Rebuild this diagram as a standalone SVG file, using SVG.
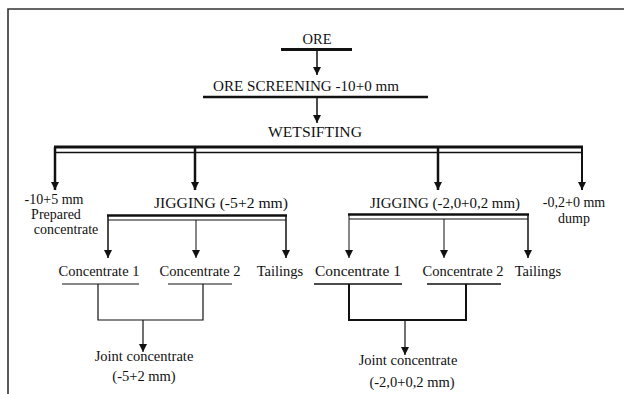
<svg xmlns="http://www.w3.org/2000/svg" width="624" height="394" viewBox="0 0 624 394">
<style>
  text { font-family: "Liberation Serif", "Times New Roman", serif; font-size: 14.5px; fill: #111; text-anchor: middle; }
  .sm { font-size: 14px; }
  .ln { stroke: #111; fill: none; }
  .frame { stroke: #333; stroke-width: 1.6; fill: none; }
</style>
<defs>
  <marker id="ah" viewBox="0 0 10 10" refX="10" refY="5" markerWidth="9" markerHeight="8" markerUnits="userSpaceOnUse" orient="auto">
    <path d="M0,0 L10,5 L0,10 z" fill="#111"/>
  </marker>
</defs>
<rect width="624" height="394" fill="#fff"/>
<path class="frame" d="M8,394 V9 H624"/>

<g id="ore"><text x="317" y="44">ORE</text><line class="ln" x1="281" y1="49.5" x2="352" y2="49.5" stroke-width="3"/></g>
<g id="screening"><text x="306" y="91" textLength="186" lengthAdjust="spacingAndGlyphs">ORE SCREENING -10+0 mm</text><line class="ln" x1="203" y1="97" x2="428" y2="97" stroke-width="2.5"/></g>
<g id="wetsifting"><text x="315" y="137" textLength="94" lengthAdjust="spacingAndGlyphs">WETSIFTING</text></g>
<g id="prepared"><text class="sm" x="54" y="204">-10+5 mm</text><text class="sm" x="56" y="219">Prepared</text><text class="sm" x="66" y="234">concentrate</text></g>
<g id="jig1"><text x="221" y="208" textLength="134" lengthAdjust="spacingAndGlyphs">JIGGING (-5+2 mm)</text></g>
<g id="jig2"><text x="445" y="208" textLength="150" lengthAdjust="spacingAndGlyphs">JIGGING (-2,0+0,2 mm)</text></g>
<g id="dump"><text class="sm" x="574" y="207">-0,2+0 mm</text><text class="sm" x="574" y="223">dump</text></g>
<g id="c1a"><text x="99" y="276">Concentrate 1</text><line class="ln" x1="62" y1="284" x2="139" y2="284" stroke-width="1"/></g>
<g id="c2a"><text x="200" y="276">Concentrate 2</text><line class="ln" x1="168" y1="284" x2="232" y2="284" stroke-width="1"/></g>
<g id="t1"><text x="280" y="276">Tailings</text></g>
<g id="c1b"><text x="358" y="276" textLength="86" lengthAdjust="spacingAndGlyphs">Concentrate 1</text><line class="ln" x1="314" y1="284" x2="402" y2="284" stroke-width="1.3"/></g>
<g id="c2b"><text x="463" y="276">Concentrate 2</text><line class="ln" x1="427" y1="284" x2="501" y2="284" stroke-width="1.3"/></g>
<g id="t2"><text x="538" y="276">Tailings</text></g>
<g id="joint1"><text x="144" y="361">Joint concentrate</text><text x="144" y="381">(-5+2 mm)</text></g>
<g id="joint2"><text x="408" y="365">Joint concentrate</text><text x="412" y="387">(-2,0+0,2 mm)</text></g>

<g id="connectors">
  <line class="ln" x1="317" y1="51" x2="317" y2="75" stroke-width="1.5" marker-end="url(#ah)"/>
  <line class="ln" x1="317" y1="98" x2="317" y2="123" stroke-width="1.5" marker-end="url(#ah)"/>
  <line class="ln" x1="54" y1="147" x2="583" y2="147" stroke-width="3"/>
  <line class="ln" x1="56" y1="152.5" x2="581" y2="152.5" stroke-width="1.3"/>
  <line class="ln" x1="55" y1="147" x2="55" y2="190" stroke-width="2.5" marker-end="url(#ah)"/>
  <line class="ln" x1="195" y1="147" x2="195" y2="190" stroke-width="2.5" marker-end="url(#ah)"/>
  <line class="ln" x1="438" y1="147" x2="438" y2="190" stroke-width="2.5" marker-end="url(#ah)"/>
  <line class="ln" x1="582" y1="147" x2="582" y2="190" stroke-width="2" marker-end="url(#ah)"/>
  <line class="ln" x1="107" y1="215.5" x2="287" y2="215.5" stroke-width="2.5"/>
  <line class="ln" x1="108" y1="220" x2="286" y2="220" stroke-width="1"/>
  <line class="ln" x1="108" y1="215" x2="108" y2="258" stroke-width="1.5" marker-end="url(#ah)"/>
  <line class="ln" x1="196" y1="220" x2="196" y2="258" stroke-width="1" marker-end="url(#ah)"/>
  <line class="ln" x1="286" y1="215" x2="286" y2="258" stroke-width="1.5" marker-end="url(#ah)"/>
  <line class="ln" x1="348" y1="214.5" x2="529" y2="214.5" stroke-width="2.5"/>
  <line class="ln" x1="349" y1="219" x2="528" y2="219" stroke-width="1"/>
  <line class="ln" x1="349" y1="214" x2="349" y2="258" stroke-width="1" marker-end="url(#ah)"/>
  <line class="ln" x1="444" y1="219" x2="444" y2="258" stroke-width="1" marker-end="url(#ah)"/>
  <line class="ln" x1="528" y1="214" x2="528" y2="258" stroke-width="1.5" marker-end="url(#ah)"/>
  <path class="ln" d="M98,284 V320 H203 V284" stroke-width="1.2"/>
  <line class="ln" x1="143" y1="320" x2="143" y2="352" stroke-width="1.2" marker-end="url(#ah)"/>
  <path class="ln" d="M349,284 V320 H466 V284" stroke-width="2"/>
  <line class="ln" x1="405" y1="320" x2="405" y2="355" stroke-width="1.2" marker-end="url(#ah)"/>
</g>
</svg>
